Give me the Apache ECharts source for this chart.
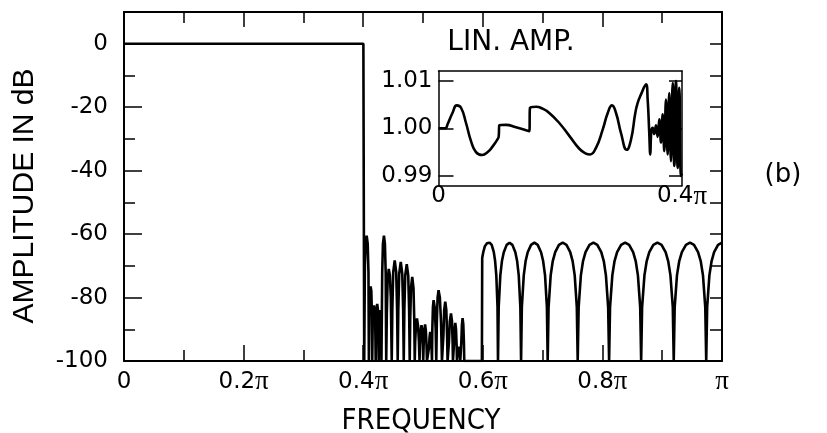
<!DOCTYPE html>
<html><head><meta charset="utf-8">
<script src="https://cdn.jsdelivr.net/npm/echarts@6/dist/echarts.min.js"></script>
<style>html,body{margin:0;padding:0;background:#fff}#c{width:827px;height:433px}</style>
</head><body><div id="c"></div>
<script>
// ---------- DATA (frequency in units of pi, amplitude in dB) ----------
const passbandDb = [[0,0],[0.4003,0],[0.4017,-100]];

const transitionLobesDb = [
 [0.4028,-70],[0.4042,-62],[0.4058,-60.5],[0.4075,-63],[0.4088,-72],[0.4095,-100],
 [0.4103,-82],[0.4114,-77.5],[0.4124,-76.5],[0.4136,-78],[0.4145,-85],[0.4151,-100],
 [0.4159,-88],[0.4168,-84],[0.418,-82.5],[0.4192,-84],[0.4202,-89],[0.4209,-100],
 [0.4216,-88],[0.4225,-83.5],[0.4234,-82],[0.4244,-83.5],[0.4252,-88],[0.4259,-100],
 [0.4266,-90],[0.4273,-85.5],[0.428,-84],[0.4289,-85.5],[0.4298,-90],[0.4305,-100],
 [0.431,-100],[0.4318,-72],[0.433,-63],[0.4347,-60.5],[0.4363,-63],[0.4376,-72],[0.4385,-100],
 [0.4395,-85],[0.4408,-75],[0.4427,-71],[0.4446,-73],[0.4462,-80],[0.4477,-100],
 [0.4487,-84],[0.4502,-72],[0.4527,-68.3],[0.4552,-72],[0.4567,-84],[0.4577,-100],
 [0.4587,-84],[0.4602,-72.5],[0.4628,-68.8],[0.4653,-72.5],[0.4668,-84],[0.4678,-100],
 [0.4688,-84],[0.4703,-73],[0.4728,-69.5],[0.4753,-73],[0.4768,-84],[0.4778,-100],
 [0.4786,-87],[0.4799,-77],[0.482,-73.5],[0.4841,-77],[0.4854,-87],[0.4862,-100],
 [0.4869,-94],[0.4882,-89],[0.4899,-86.6],[0.4918,-89],[0.4932,-94],[0.4942,-100],
 [0.4949,-95],[0.4961,-90.5],[0.4975,-88.7],[0.4989,-90.5],[0.4998,-95],[0.5004,-100],
 [0.5011,-95],[0.5022,-90.5],[0.5035,-88.5],[0.5048,-90.5],[0.5059,-95],[0.5066,-100],
 [0.5093,-100],[0.5099,-96],[0.511,-92.5],[0.5121,-90.8],[0.5133,-92.5],[0.5143,-96],[0.515,-100],
 [0.5156,-90],[0.5166,-83],[0.5177,-80.8],[0.5195,-83],[0.5212,-90],[0.5222,-100],
 [0.5231,-88],[0.5244,-80],[0.526,-77.7],[0.5282,-80],[0.5302,-88],[0.5317,-100],
 [0.5334,-100],[0.5341,-92],[0.5354,-84],[0.5372,-81.3],[0.539,-84],[0.5403,-92],[0.5411,-100],
 [0.5427,-100],[0.5434,-94],[0.5448,-87.5],[0.5468,-85],[0.5485,-87.5],[0.5495,-94],[0.5501,-100],
 [0.5511,-100],[0.5517,-95],[0.5528,-90],[0.554,-88],[0.5552,-90],[0.5562,-95],[0.5568,-100],
 [0.5578,-97.5],[0.5595,-95.5],[0.5612,-97.5],[0.5623,-100],
 [0.5635,-100],[0.5641,-94],[0.5651,-88.5],[0.5662,-86.5],[0.5674,-88.5],[0.5684,-94],[0.569,-100],
 [0.5985,-100]
];

const stopbandLobesDb = [
 [0.599,-67.5],[0.6003,-67],[0.601,-65.5],[0.6035,-63.8],[0.607,-62.9],[0.6114,-62.7],[0.6149,-63.4],[0.6184,-65.7],[0.6206,-68.5],[0.6226,-73],[0.6246,-83],[0.6254,-100],
 [0.6266,-83],[0.6293,-73],[0.632,-68.5],[0.6351,-65.7],[0.6399,-63.4],[0.6447,-62.7],[0.6495,-63.4],[0.6544,-65.7],[0.6574,-68.5],[0.6601,-73],[0.6628,-83],[0.664,-100],
 [0.6653,-83],[0.6685,-73],[0.6716,-68.5],[0.6751,-65.7],[0.6807,-63.4],[0.6863,-62.7],[0.6918,-63.4],[0.6974,-65.7],[0.7009,-68.5],[0.7041,-73],[0.7072,-83],[0.7085,-100],
 [0.71,-83],[0.7135,-73],[0.717,-68.5],[0.7211,-65.7],[0.7273,-63.4],[0.7336,-62.7],[0.7399,-63.4],[0.7462,-65.7],[0.7502,-68.5],[0.7537,-73],[0.7572,-83],[0.7587,-100],
 [0.7603,-83],[0.764,-73],[0.7676,-68.5],[0.7718,-65.7],[0.7784,-63.4],[0.785,-62.7],[0.7915,-63.4],[0.7981,-65.7],[0.8023,-68.5],[0.8059,-73],[0.8096,-83],[0.8112,-100],
 [0.8128,-83],[0.8166,-73],[0.8203,-68.5],[0.8246,-65.7],[0.8313,-63.4],[0.838,-62.7],[0.8447,-63.4],[0.8514,-65.7],[0.8557,-68.5],[0.8594,-73],[0.8632,-83],[0.8648,-100],
 [0.8664,-83],[0.8703,-73],[0.8741,-68.5],[0.8784,-65.7],[0.8852,-63.4],[0.892,-62.7],[0.8989,-63.4],[0.9057,-65.7],[0.91,-68.5],[0.9138,-73],[0.9177,-83],[0.9193,-100],
 [0.9209,-83],[0.9247,-73],[0.9285,-68.5],[0.9329,-65.7],[0.9397,-63.4],[0.9465,-62.7],[0.9532,-63.4],[0.96,-65.7],[0.9644,-68.5],[0.9682,-73],[0.972,-83],[0.9736,-100],
 [0.9752,-83],[0.9789,-73],[0.9826,-68.5],[0.9868,-65.7],[0.9934,-63.4],[1.0,-62.7]
];

// inset: linear amplitude over 0 .. 0.4 pi
const insetLinAmp = [
 [0,1.0],[0.011,1.0],[0.0151,1.0009],[0.0233,1.0033],[0.0299,1.0048],[0.037,1.0043],[0.0452,1.0011],
 [0.0534,0.9973],[0.0616,0.995],[0.0715,0.9944],[0.0808,0.995],[0.089,0.9962],[0.0961,0.9975],[0.0989,0.9983],
 [0.0999,1.0006],[0.1109,1.0007],[0.1273,1.0002],[0.1492,0.9994],
 [0.1503,1.0043],[0.1602,1.0045],[0.1711,1.0041],[0.182,1.0032],[0.1984,1.0011],[0.2149,0.9984],[0.2313,0.9957],
 [0.2423,0.9947],[0.2489,0.9945],[0.2587,0.9959],[0.2697,0.9997],[0.278,1.0032],[0.285,1.0048],[0.2916,1.0032],
 [0.2998,0.999],[0.3092,0.9955],[0.3162,0.9976],[0.3233,1.0032],[0.3272,1.0053],[0.3327,1.0071],[0.3409,1.0092],
 [0.3436,1.006],[0.3462,0.999],[0.3479,0.9945],[0.3496,0.9994],[0.3519,1.0001],[0.3545,0.9988],[0.3573,1.0006],
 [0.36,0.9982],[0.3627,1.0019],[0.3655,0.997],[0.3683,1.0029],[0.3709,0.9952],[0.3737,1.006],[0.3765,0.9945],
 [0.3791,1.0074],[0.3819,0.9931],[0.3847,1.0095],[0.3874,0.9921],[0.3901,1.0099],[0.3929,0.9917],[0.3956,1.0085],
 [0.3984,0.99],[0.4,0.9905]
];

// tick labels
const mainXTickLabels = ['0','0.2π','0.4π','0.6π','0.8π','π'];
const mainYTickValues = [-100,-80,-60,-40,-20,0];
const insetXTickValues = [0,0.4];
const insetXTickLabels = ['0','0.4π'];
const insetYTickValues = [0.99,1.00,1.01];

// ---------- CHART ----------
const mainData = passbandDb.concat(transitionLobesDb, stopbandLobesDb);
const K = '#000';
const LBL = 'DejaVu Sans';
const FS = 23;
function rich(s){
  const i = s.indexOf('π');
  if (i < 0) return '{n|' + s + '}';
  return (i > 0 ? '{n|' + s.slice(0,i) + '}' : '') + '{p|π}';
}
const richStyles = {
  n:{fontFamily:LBL,fontSize:FS,color:K,height:26,lineHeight:26},
  p:{fontFamily:'Liberation Serif',fontSize:27,color:K,height:26,lineHeight:26}
};
const noLine = {show:false,onZero:false};
const line2 = {show:true,onZero:false,lineStyle:{color:K,width:2}};
const line15 = {show:true,onZero:false,lineStyle:{color:K,width:1.5}};
function tick(len){return {show:true,inside:true,length:len,lineStyle:{color:K,width:1.5}};}

const chart = echarts.init(document.getElementById('c'), null, {renderer:'canvas'});
chart.setOption({
  animation:false,
  backgroundColor:'#fff',
  grid:[
    {left:124,top:12,width:598,height:349,outerBoundsMode:'none'},
    {left:438.5,top:71,width:243.5,height:114.5,outerBoundsMode:'none'}
  ],
  xAxis:[
    {gridIndex:0,type:'value',position:'bottom',min:0,max:1,interval:0.2,axisLine:line2,axisTick:tick(16),splitLine:{show:false},
     axisLabel:{show:true,margin:8,formatter:v=>rich(mainXTickLabels[Math.round(v*5)]),rich:richStyles}},
    {gridIndex:0,type:'value',position:'bottom',min:0,max:1,interval:0.1,axisLine:noLine,axisTick:tick(11),axisLabel:{show:false},splitLine:{show:false}},
    {gridIndex:0,type:'value',position:'top',min:0,max:1,interval:0.2,axisLine:line2,axisTick:tick(15),axisLabel:{show:false},splitLine:{show:false}},
    {gridIndex:0,type:'value',position:'top',min:0,max:1,interval:0.1,axisLine:noLine,axisTick:tick(11),axisLabel:{show:false},splitLine:{show:false}},
    {gridIndex:1,type:'value',position:'bottom',min:0,max:0.4,axisLine:line15,axisTick:{show:false},splitLine:{show:false},
     axisLabel:{show:true,margin:-2,customValues:insetXTickValues,showMinLabel:true,showMaxLabel:true,
       formatter:v=>rich(insetXTickLabels[insetXTickValues.indexOf(v)] || (v<0.2?'0':'0.4π')),rich:richStyles}},
    {gridIndex:1,type:'value',position:'top',min:0,max:0.4,axisLine:line15,axisTick:{show:false},axisLabel:{show:false},splitLine:{show:false}}
  ],
  yAxis:[
    {gridIndex:0,type:'value',position:'left',min:-100,max:10,interval:20,axisLine:line2,axisTick:tick(18),splitLine:{show:false},
     axisLabel:{show:true,margin:16,fontFamily:LBL,fontSize:FS,color:K,formatter:v=>mainYTickValues.indexOf(v)>=0?String(v):''}},
    {gridIndex:0,type:'value',position:'left',min:-100,max:10,interval:10,axisLine:noLine,axisTick:tick(11),axisLabel:{show:false},splitLine:{show:false}},
    {gridIndex:0,type:'value',position:'right',min:-100,max:10,interval:10,axisLine:line2,axisTick:tick(12),axisLabel:{show:false},splitLine:{show:false}},
    {gridIndex:1,type:'value',position:'left',min:0.988,max:1.012,axisLine:line15,splitLine:{show:false},
     axisTick:{show:true,inside:true,length:15,customValues:insetYTickValues,lineStyle:{color:K,width:1.5}},
     axisLabel:{show:true,margin:6,customValues:insetYTickValues,fontFamily:LBL,fontSize:FS,color:K,formatter:v=>v.toFixed(2)}},
    {gridIndex:1,type:'value',position:'right',min:0.988,max:1.012,axisLine:line15,splitLine:{show:false},
     axisTick:{show:true,inside:true,length:13,customValues:insetYTickValues,lineStyle:{color:K,width:1.5}},
     axisLabel:{show:false}}
  ],
  graphic:[
    {type:'text',x:25,y:196,rotation:Math.PI/2,silent:true,
     style:{text:'AMPLITUDE IN dB',fontFamily:'Liberation Sans',fontSize:30,fill:K,align:'center',verticalAlign:'middle',textAlign:'center',textVerticalAlign:'middle'}},
    {type:'text',x:421,y:421,silent:true,
     style:{text:'FREQUENCY',fontFamily:'"Liberation Sans Narrow", "DejaVu Sans Condensed", "Liberation Sans"',fontSize:29,fill:K,align:'center',verticalAlign:'middle',textAlign:'center',textVerticalAlign:'middle'}},
    {type:'text',x:511,y:43,silent:true,
     style:{text:'LIN. AMP.',fontFamily:LBL,fontSize:28,fill:K,align:'center',verticalAlign:'middle',textAlign:'center',textVerticalAlign:'middle'}},
    {type:'text',x:783,y:175,silent:true,
     style:{text:'(b)',fontFamily:LBL,fontSize:26,fill:K,align:'center',verticalAlign:'middle',textAlign:'center',textVerticalAlign:'middle'}}
  ],
  series:[
    {type:'line',xAxisIndex:0,yAxisIndex:0,data:mainData,symbol:'none',showSymbol:false,silent:true,clip:true,
     lineStyle:{color:K,width:2.6}},
    {type:'line',xAxisIndex:4,yAxisIndex:3,data:insetLinAmp,symbol:'none',showSymbol:false,silent:true,clip:true,
     smooth:0.5,lineStyle:{color:K,width:2.6}}
  ]
});
</script>
</body></html>
